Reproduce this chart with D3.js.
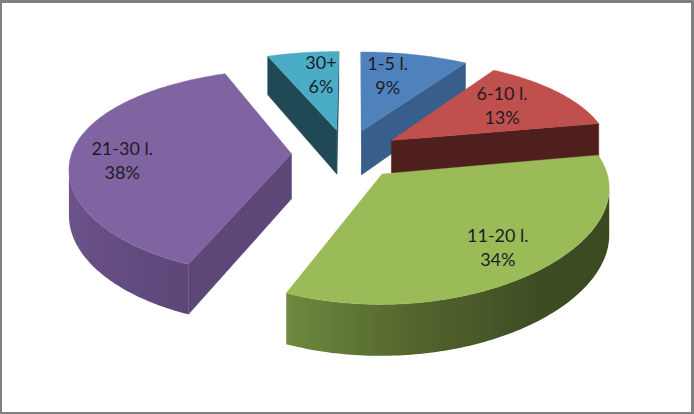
<!DOCTYPE html>
<html><head><meta charset="utf-8">
<script src="https://cdn.jsdelivr.net/npm/d3@7"></script>
<style>html,body{margin:0;padding:0;background:#fff}svg{display:block}</style>
</head><body><script>
const categories = ["1-5 l.","6-10 l.","11-20 l.","21-30 l.","30+"];
const shares = [9,13,34,38,6];
const topColors = ["#4F81BD","#C0504D","#9BBB59","#8064A2","#4BACC6"];
const wallColors = ["#385E8C","#4F1F1E","#3C4A22","#5D4778","#1F4A55"];
const outerShades = [
  ["#3f6a9c","#385E8C"],["#5e2624","#4F1F1E"],
  ["#3C4A22","#3C4A22","#3E4C23","#52632D","#6E8A3E"],
  ["#5D4778","#6B5289","#6F5690","#66508A"],["#2a5f6c","#1F4A55"]];
const explode = [0.25,0.25,0.25,0.25,0.25];
const labelAngles = [12.8,54.6,141.6,266.6,352.1];
const labelRadii = [0.938,0.923,1.02,1.014,0.936];
const paintOrder = [4,0,1,3,2];
const firstSliceAngle = 0.3;

const W=694,H=414, ax=346.5, ay=154, A=220, B=100, Px=0.12, Py=0.173, T=45, lean=4.5;
const svg=d3.select("body").append("svg").attr("width",W).attr("height",H);
svg.append("rect").attr("width",W).attr("height",H).attr("fill","#808080");
svg.append("rect").attr("x",2).attr("y",3).attr("width",W-5).attr("height",H-5).attr("fill","#fff");
const defs=svg.append("defs");

const proj=(X,Y,z)=>[ax+A*X/(1-Px*Y)-lean*Math.max(0,Y)*Math.max(0,Y), ay+B*Y/(1-Py*Y)+z*T*(1+0.12*Y)];
const line=d3.line();
const rot=firstSliceAngle*Math.PI/180;
const pie=d3.pie().sort(null).value(d=>d).startAngle(rot).endAngle(2*Math.PI+rot)(shares);
const area=q=>d3.polygonArea(q);
const g=svg.append("g");

paintOrder.forEach(i=>{
  const a=pie[i], mid=(a.startAngle+a.endAngle)/2, ox=explode[i]*Math.sin(mid), oy=-explode[i]*Math.cos(mid);
  const pt=(th,r,z)=>proj(ox+r*Math.sin(th),oy-r*Math.cos(th),z);
  const n=Math.max(12,Math.round((a.endAngle-a.startAngle)*60));
  const ths=d3.range(n+1).map(k=>a.startAngle+(a.endAngle-a.startAngle)*k/n);
  const sl=g.append("g").attr("class","slice");
  [[a.startAngle,1],[a.endAngle,-1]].forEach(([th,s])=>{
    const q=[pt(0,0,0),pt(th,1,0),pt(th,1,1),pt(0,0,1)];
    if(area(q)*s>0) sl.append("path").attr("d",line(q)+"Z").attr("fill",wallColors[i]).attr("stroke",wallColors[i]).attr("stroke-width",0.5);
  });
  const shadeStops=outerShades[i];
  const shade=d3.scaleLinear().domain(shadeStops.map((_,k)=>a.startAngle+(a.endAngle-a.startAngle)*k/(shadeStops.length-1))).range(shadeStops);
  const vis=d3.range(n).filter(k=>area([pt(ths[k],1,0),pt(ths[k+1],1,0),pt(ths[k+1],1,1),pt(ths[k],1,1)])>0);
  if(vis.length){
    const run=d3.range(vis[0],vis[vis.length-1]+2).map(k=>ths[k]);
    const xs=run.map(t=>pt(t,1,0)[0]);
    const x0=d3.min(xs), x1=d3.max(xs);
    const id="wall"+i;
    const grad=defs.append("linearGradient").attr("id",id).attr("gradientUnits","userSpaceOnUse")
      .attr("x1",x0).attr("x2",x1).attr("y1",0).attr("y2",0);
    run.map((t,k)=>({o:(xs[k]-x0)/(x1-x0),c:shade(t)})).sort((p,q)=>p.o-q.o).forEach(s=>
      grad.append("stop").attr("offset",s.o).attr("stop-color",s.c));
    const outline=[...run.map(t=>pt(t,1,0)),...run.slice().reverse().map(t=>pt(t,1,1))];
    sl.append("path").attr("d",line(outline)+"Z").attr("fill",`url(#${id})`);
  }
  const top=[pt(0,0,0),...ths.map(t=>pt(t,1,0))];
  sl.append("path").attr("d",line(top)+"Z").attr("fill",topColors[i]).attr("stroke",topColors[i]).attr("stroke-width",0.4);
});

categories.forEach((c,i)=>{
  const th=labelAngles[i]*Math.PI/180,r=labelRadii[i];
  const [x,y]=proj(r*Math.sin(th),-r*Math.cos(th),0);
  const t=svg.append("text").attr("x",x).attr("y",y).attr("text-anchor","middle")
    .attr("font-family","Lato, Carlito, sans-serif").attr("font-size",18).attr("fill","#1c1c24");
  t.append("tspan").attr("x",x).attr("dy",-5).text(c);
  t.append("tspan").attr("x",x).attr("dy",24).text(shares[i]+"%");
});
</script></body></html>
